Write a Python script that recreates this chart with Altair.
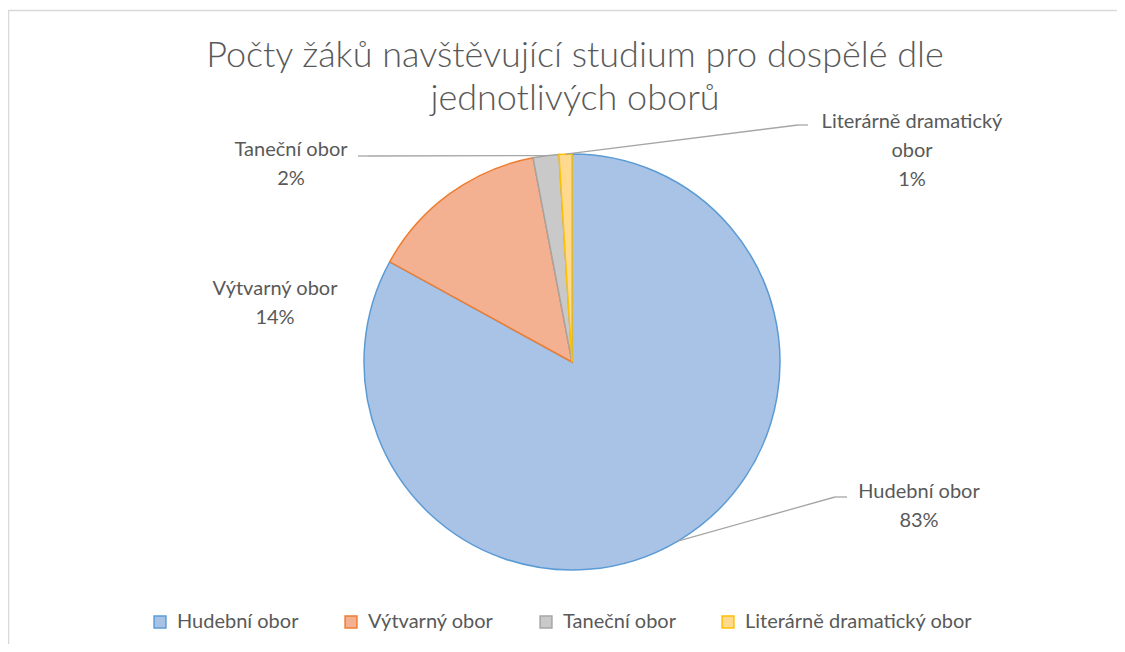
import altair as alt
import pandas as pd

# ---------------- data ----------------
categories = ["Hudební obor", "Výtvarný obor", "Taneční obor", "Literárně dramatický obor"]
shares = [83, 14, 2, 1]
label_names = ["Hudební obor", "Výtvarný obor", "Taneční obor", "Literárně dramatický\nobor"]
title_lines = ["Počty žáků navštěvující studium pro dospělé dle", "jednotlivých oborů"]

# ---------------- styles ----------------
fill_colors = ["#a9c3e6", "#f4b192", "#c9c9c9", "#ffd98e"]
stroke_colors = ["#5b9bd5", "#ed7d31", "#a5a5a5", "#ffc000"]
FONT = "Lato"
TEXT_COLOR = "#595959"

# ---------------- layout (pixels) ----------------
W, H = 1109, 636
CX, CY, R = 564, 354, 208
LINE_H = 29
label_pos = {  # centre of the first label line, relative to the pie centre
    "Hudební obor": (347, 130),
    "Výtvarný obor": (-297, -73),
    "Taneční obor": (-281, -212),
    "Literárně dramatický obor": (340, -240),
}
leader_pos = {  # elbow and end of the leader lines, relative to the pie centre
    "Hudební obor": (263, 135, 275, 135),
    "Taneční obor": (-204, -206, -214, -206),
    "Literárně dramatický obor": (226, -237, 236, -237),
}
title_pos = (3, -306, 43)  # dx, dy of first line, line height

df = pd.DataFrame({"obor": categories, "podil": shares, "poradi": list(range(len(categories)))})

total = sum(shares)
label_rows = []
for i, cat in enumerate(categories):
    lines = label_names[i].split("\n") + [f"{round(shares[i] / total * 100)}%"]
    dx, dy = label_pos[cat]
    for j, t in enumerate(lines):
        label_rows.append({"t": t, "x": CX + dx, "y": CY + dy + j * LINE_H})
label_df = pd.DataFrame(label_rows)

leader_df = pd.DataFrame([
    {"obor": k, "ex": CX + v[0], "ey": CY + v[1], "tx": CX + v[2], "ty": CY + v[3]}
    for k, v in leader_pos.items()
])

title_df = pd.DataFrame({
    "t": title_lines,
    "x": [CX + title_pos[0]] * len(title_lines),
    "y": [CY + title_pos[1] + k * title_pos[2] for k in range(len(title_lines))],
})

legend = alt.Legend(
    title=None, orient="none", legendX=142, legendY=604, direction="horizontal",
    symbolType="square", symbolSize=140, symbolStrokeWidth=1.5, symbolOpacity=1,
    labelFont=FONT, labelFontSize=20, labelColor=TEXT_COLOR, labelLimit=400,
    columnPadding=42, labelOffset=7, padding=0,
)

pie = alt.Chart(df).mark_arc(radius=R, strokeWidth=1.5).encode(
    theta=alt.Theta("podil:Q", stack=True),
    order=alt.Order("poradi:Q"),
    color=alt.Color("obor:N", scale=alt.Scale(domain=categories, range=fill_colors), legend=legend),
    stroke=alt.Stroke("obor:N", scale=alt.Scale(domain=categories, range=stroke_colors), legend=legend),
    x=alt.value(CX),
    y=alt.value(CY),
)

leader_base = alt.Chart(df).transform_joinaggregate(
    total="sum(podil)"
).transform_window(
    cum="sum(podil)", sort=[alt.SortField("poradi", order="ascending")], frame=[None, 0]
).transform_lookup(
    lookup="obor", from_=alt.LookupData(leader_df, "obor", ["ex", "ey", "tx", "ty"])
).transform_filter(
    "isValid(datum.ex)"
).transform_calculate(
    ang="2*PI*(datum.cum - datum.podil/2)/datum.total",
    sx=f"{CX} + {R}*sin(datum.ang)",
    sy=f"{CY} - {R}*cos(datum.ang)",
)

seg1 = leader_base.mark_rule(color="#a6a6a6", strokeWidth=1.3).encode(
    x=alt.X("sx:Q", scale=None, axis=None),
    y=alt.Y("sy:Q", scale=None, axis=None),
    x2=alt.X2("ex"),
    y2=alt.Y2("ey"),
)
seg2 = leader_base.mark_rule(color="#a6a6a6", strokeWidth=1.3).encode(
    x=alt.X("ex:Q", scale=None, axis=None),
    y=alt.Y("ey:Q", scale=None, axis=None),
    x2=alt.X2("tx"),
    y2=alt.Y2("ty"),
)

labels = alt.Chart(label_df).mark_text(
    font=FONT, fontSize=20, color=TEXT_COLOR, align="center", baseline="middle"
).encode(
    x=alt.X("x:Q", scale=None, axis=None),
    y=alt.Y("y:Q", scale=None, axis=None),
    text="t:N",
)

title = alt.Chart(title_df).mark_text(
    font=FONT, fontSize=36, fontWeight=300, color=TEXT_COLOR, align="center", baseline="middle"
).encode(
    x=alt.X("x:Q", scale=None, axis=None),
    y=alt.Y("y:Q", scale=None, axis=None),
    text="t:N",
)

border_src = pd.DataFrame({"k": [0]})
border_top = alt.Chart(border_src).mark_rule(color="#d9d9d9", strokeWidth=1.5).encode(
    x=alt.value(0), x2=alt.value(W), y=alt.value(2.5)
)
border_left = alt.Chart(border_src).mark_rule(color="#d9d9d9", strokeWidth=1.5).encode(
    x=alt.value(0.5), y=alt.value(2.5), y2=alt.value(H)
)

chart = alt.layer(border_top, border_left, pie, seg1, seg2, labels, title).properties(
    width=W, height=H, autosize="none", padding=0, background="white"
).configure_view(stroke=None)

chart.save("out.html", embed_options={"renderer": "svg", "actions": False})
